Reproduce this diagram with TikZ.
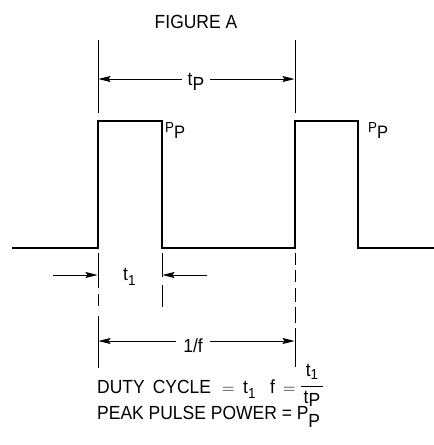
\documentclass[tikz,border=0pt]{standalone}
\usepackage{fontspec}
\setmainfont{Liberation Sans}[FakeStretch=0.92]
\usetikzlibrary{arrows.meta,positioning}

\tikzset{
  wave/.style={line width=1.4pt, line join=miter},
  refline/.style={line width=0.8pt},
  dimarrow/.style={line width=0.8pt, -{Stealth[length=12pt,width=6pt,inset=2pt]}},
  lbl/.style={inner sep=0pt, font=\fontsize{19}{22}\selectfont},
  small lbl/.style={inner sep=0pt, font=\fontsize{14.5}{17}\selectfont},
}
% lowered index: size, drop, text
\newcommand{\dnsub}[3]{\raisebox{-#2}{\fontsize{#1}{#1}\selectfont #3}}

\begin{document}
\begin{tikzpicture}[x=1pt,y=-1pt]
\useasboundingbox (0,0) rectangle (434,445);

\node[lbl, anchor=base] (title) at (196,28) {FIGURE A};

%% pulse train
\draw[wave] (12,248) -- (98,248) -- (98,121) -- (162,121) -- (162,248)
  -- (295,248) -- (295,121) -- (358,121) -- (358,248) -- (434,248);

\node[small lbl, anchor=base west] (pp1) at (165,132) {P\dnsub{18}{6pt}{P}};
\node[small lbl, anchor=base west] (pp2) at (368,132) {P\dnsub{18}{6pt}{P}};

%% period marks on top
\draw[refline] (98,40) -- (98,113);
\draw[refline] (295,40) -- (295,113);

\node[lbl, anchor=base, inner xsep=6pt] (tp) at (196,85) {t\dnsub{19}{5pt}{P}};
\coordinate (tpL) at (98.5,79);
\coordinate (tpR) at (294.5,79);
\draw[dimarrow] (tp.west |- tpL) -- (tpL);
\draw[dimarrow] (tp.east |- tpR) -- (tpR);

%% extension lines below
\draw[refline, dash pattern=on 35pt off 6pt on 12pt off 10pt on 52pt] (98,253) -- (98,368);
\draw[refline, dash pattern=on 24pt off 8pt on 22pt] (162,253) -- (162,307);
\draw[refline, dash pattern=on 12pt off 5pt on 12pt off 6pt on 14pt off 5pt on 16pt off 5pt on 39pt]
  (295,253) -- (295,367);

%% pulse width
\coordinate (t1a) at (53,275);
\coordinate (t1b) at (97.5,275);
\coordinate (t1c) at (207,275);
\coordinate (t1d) at (162.5,275);
\draw[dimarrow] (t1a) -- (t1b);
\draw[dimarrow] (t1c) -- (t1d);
\node[lbl, anchor=base west] (t1) at (123,280) {t\dnsub{14.5}{5pt}{1}};

%% 1/f
\node[lbl, anchor=base, inner xsep=7pt] (finv) at (193,352) {1/f};
\coordinate (fL) at (98.5,341);
\coordinate (fR) at (294.5,341);
\draw[dimarrow] (finv.west |- fL) -- (fL);
\draw[dimarrow] (finv.east |- fR) -- (fR);

%% formulas
\node[lbl, anchor=base west] (duty) at (97,393) {DUTY\hspace{8pt}CYCLE};
\node[lbl, anchor=base west] (eqa) at (222,393) {$=$};
\node[lbl, anchor=base west] (tone) at (243,393) {t\dnsub{14.5}{5pt}{1}};
\node[lbl, anchor=base west] (fsym) at (270,393) {f};
\node[lbl, anchor=base west] (eqb) at (283,393) {$=$};
\node[lbl, anchor=base] (num) at (312,376) {t\dnsub{14.5}{3pt}{1}};
\coordinate (barL) at (301,386);
\coordinate (barR) at (323,386);
\draw[refline] (barL) -- (barR);
\node[lbl, anchor=base] (den) at (312,403) {t\dnsub{19}{3pt}{P}};

\node[lbl, anchor=base west] (peak) at (97,419) {PEAK PULSE POWER = P\dnsub{19}{8pt}{P}};

\end{tikzpicture}
\end{document}
